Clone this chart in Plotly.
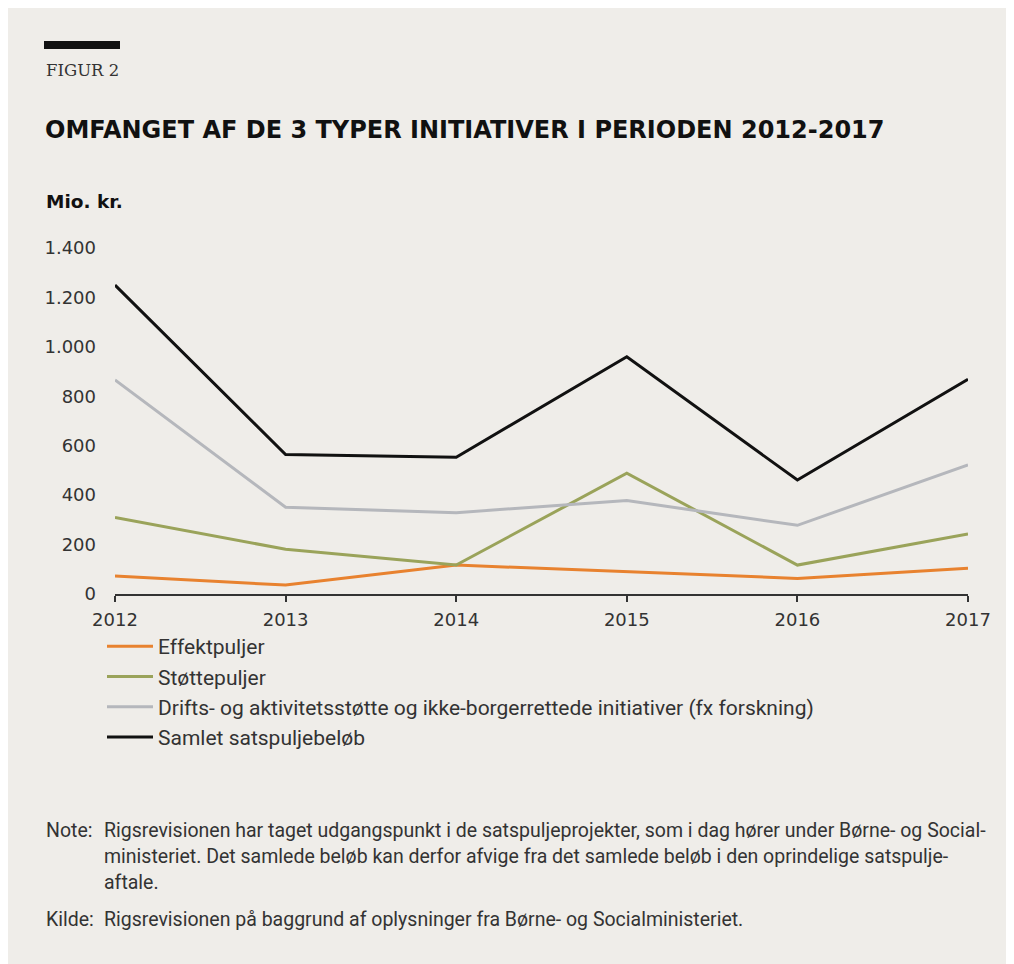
import plotly.graph_objects as go

# ── Data ────────────────────────────────────────────────────────────────
years = [2012, 2013, 2014, 2015, 2016, 2017]
effektpuljer = [73, 36, 117, 90, 63, 104]
stottepuljer = [310, 181, 117, 489, 117, 243]
drift_forskning = [866, 351, 329, 378, 278, 522]
samlet = [1250, 564, 553, 960, 461, 869]

series_names = [
    "Effektpuljer",
    "Støttepuljer",
    "Drifts- og aktivitetsstøtte og ikke-borgerrettede initiativer (fx forskning)",
    "Samlet satspuljebeløb",
]
series_values = [effektpuljer, stottepuljer, drift_forskning, samlet]
series_colors = ["#e8822f", "#9aa35a", "#b5b7bc", "#111111"]

y_ticks = [0, 200, 400, 600, 800, 1000, 1200, 1400]
y_ticklabels = ["0", "200", "400", "600", "800", "1.000", "1.200", "1.400"]

# ── Geometry (figure pixels; page adds an 8px body margin) ──────────────
W, H = 1040, 990
OFF = 8
L, T = 107, 240
R = W - L - 853
B = H - T - 346
PW, PH = W - L - R, H - T - B
BG = "#efede9"
TXT = "#333333"


def px(x):
    # screen x -> paper x
    return (x - OFF - L) / PW


def py(y):
    # screen y -> paper y
    return (H - B - (y - OFF)) / PH


fig = go.Figure()
for name, vals, color in zip(series_names, series_values, series_colors):
    fig.add_trace(go.Scatter(
        x=years, y=vals, mode="lines", name=name,
        line=dict(color=color, width=3),
        legendgroup=name,
    ))

# black bar above "FIGUR 2"
fig.add_shape(type="rect", xref="paper", yref="paper",
              x0=px(44), x1=px(120), y0=py(49), y1=py(41),
              fillcolor="#111111", line=dict(width=0))

note_font = dict(family="Roboto", size=19.5, color=TXT)
texts = [
    (44, 70, "FIGUR 2", dict(family="DejaVu Serif", size=16.5, color=TXT)),
    (43, 130, "<b>OMFANGET AF DE 3 TYPER INITIATIVER I PERIODEN 2012-2017</b>",
     dict(family="DejaVu Sans", size=24, color="#111111")),
    (44, 201, "<b>Mio. kr.</b>", dict(family="DejaVu Sans", size=18.5, color="#111111")),
    (44, 830, "Note:", note_font),
    (102, 830, "Rigsrevisionen har taget udgangspunkt i de satspuljeprojekter, "
               "som i dag hører under Børne- og Social-", note_font),
    (102, 856, "ministeriet. Det samlede beløb kan derfor afvige fra det samlede "
               "beløb i den oprindelige satspulje-", note_font),
    (102, 882, "aftale.", note_font),
    (44, 919, "Kilde:", note_font),
    (102, 919, "Rigsrevisionen på baggrund af oplysninger fra Børne- og "
               "Socialministeriet.", note_font),
]
for x, y, t, f in texts:
    fig.add_annotation(x=px(x), y=py(y), xref="paper", yref="paper",
                       text=t, showarrow=False, xanchor="left",
                       yanchor="middle", font=f)

fig.update_layout(
    width=W, height=H,
    margin=dict(l=L, r=R, t=T, b=B),
    paper_bgcolor=BG,
    plot_bgcolor=BG,
    font=dict(family="Roboto", color=TXT, size=17),
    showlegend=True,
    legend=dict(
        x=px(102), y=py(626), xanchor="left", yanchor="top",
        bgcolor="rgba(0,0,0,0)", font=dict(size=21, color=TXT),
        tracegroupgap=0, itemwidth=46,
    ),
    xaxis=dict(
        range=[2012, 2017], tickvals=years, ticktext=[str(y) for y in years],
        showgrid=False, zeroline=False, showline=True, linecolor="#333333",
        linewidth=2, ticks="outside", ticklen=6, tickwidth=2,
        tickcolor="#333333", ticklabelstandoff=2,
        tickfont=dict(family="DejaVu Sans", size=18, color=TXT),
    ),
    yaxis=dict(
        range=[0, 1400], tickvals=y_ticks, ticktext=y_ticklabels,
        showgrid=False, zeroline=False, showline=False, ticks="",
        ticklabelstandoff=18,
        tickfont=dict(family="DejaVu Sans", size=18, color=TXT),
    ),
)

fig.write_html("out.html")
